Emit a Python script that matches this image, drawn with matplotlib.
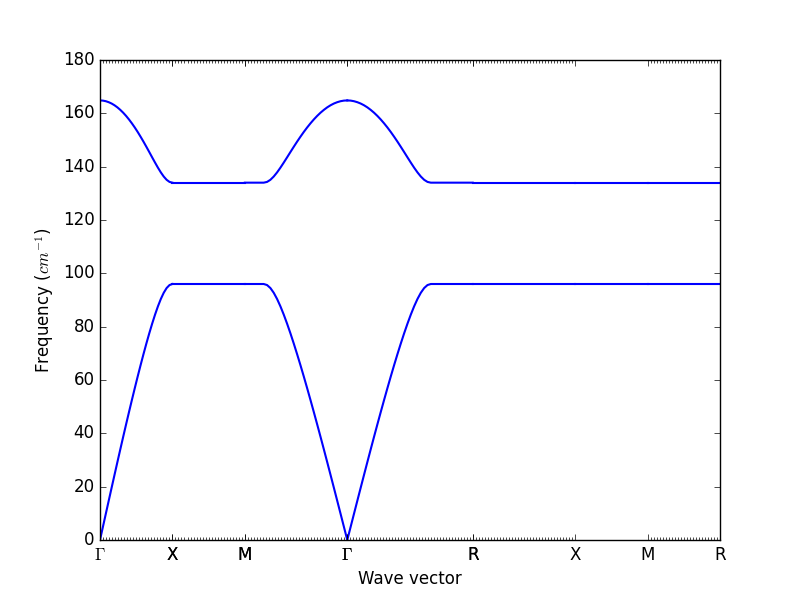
import matplotlib
matplotlib.use("Agg")
import matplotlib.pyplot as plt
from matplotlib.ticker import FixedLocator
import numpy as np

# high-symmetry points of the simple cubic path (units of 2*pi/a)
POINTS = {
    "G": (0.0, 0.0, 0.0),
    "X": (0.5, 0.0, 0.0),
    "M": (0.5, 0.5, 0.0),
    "R": (0.5, 0.5, 0.5),
}
PATH = ["G", "X", "M", "G", "R", "X", "M", "R"]
LABELS = {"G": r"$\Gamma$", "X": "X", "M": "M", "R": "R"}

# band frequencies (cm^-1) read against reduced wave vector q (0 at Gamma, 0.5 at zone edge)
QX = [0.00, 0.02, 0.04, 0.06, 0.08, 0.10, 0.12, 0.14, 0.16, 0.18, 0.20, 0.22, 0.24,
      0.26, 0.28, 0.30, 0.32, 0.34, 0.36, 0.38, 0.40, 0.42, 0.44, 0.46, 0.48, 0.50]
ACOUSTIC = [0.00, 4.90, 9.80, 14.68, 19.55, 24.38, 29.19, 33.96, 38.68, 43.34, 47.94,
            52.47, 56.92, 61.28, 65.53, 69.66, 73.65, 77.48, 81.11, 84.51, 87.63,
            90.39, 92.71, 94.49, 95.61, 96.00]
OPTICAL = [164.84, 164.77, 164.55, 164.18, 163.68, 163.03, 162.24, 161.30, 160.24,
           159.04, 157.71, 156.26, 154.70, 153.03, 151.25, 149.40, 147.47, 145.50,
           143.50, 141.53, 139.62, 137.85, 136.30, 135.07, 134.28, 134.00]
# path length from Gamma over which each dispersive leg reaches the zone-edge value
REACH = [0.5, None, 0.577, 0.577, None, None, None]

plt.style.use("classic")
plt.rcParams["mathtext.fontset"] = "cm"

fig, ax = plt.subplots(figsize=(8, 6), dpi=100)
fig.patch.set_facecolor("white")

qx = np.array(QX)
nodes = [0.0]
minor = []
for i, (a, b) in enumerate(zip(PATH[:-1], PATH[1:])):
    pa, pb = np.array(POINTS[a]), np.array(POINTS[b])
    seglen = np.linalg.norm(pb - pa)
    d0 = nodes[-1]
    nodes.append(d0 + seglen)
    qa, qb = pa[0], pb[0]
    for band in (ACOUSTIC, OPTICAL):
        band = np.array(band)
        if qa == qb:
            k = QX.index(qa)
            ax.plot([d0, d0 + seglen], [band[k], band[k]], "b-", lw=1.5)
        else:
            if qa == 0:
                g, sign, far = d0, 1, d0 + seglen
            else:
                g, sign, far = d0 + seglen, -1, d0
            x = g + sign * REACH[i] * qx / 0.5
            ax.plot(np.append(x, far), np.append(band, band[-1]), "b-", lw=1.5)
    # q-point ticks (the second X-M leg carries none)
    if i != 5:
        n = int(round(seglen / 0.0208))
        minor.extend(np.linspace(d0, d0 + seglen, n + 1))

# labels at segment joins are drawn twice on the first legs
major = nodes + nodes[1:5]
major_labels = [LABELS[p] for p in PATH] + [LABELS[p] for p in PATH[1:5]]
ax.xaxis.set_major_locator(FixedLocator(major))
ax.set_xticklabels(major_labels)
ax.xaxis.set_minor_locator(FixedLocator(minor))

ax.set_xlim(nodes[0], nodes[-1])
ax.set_ylim(0, 180)
ax.set_yticks(np.arange(0, 181, 20))
ax.set_xlabel("Wave vector")
ax.set_ylabel(r"Frequency ($cm^{-1}$)")

fig.savefig("out.png", dpi=100, facecolor="white")
